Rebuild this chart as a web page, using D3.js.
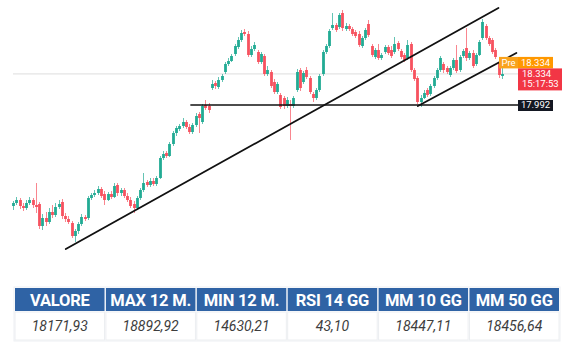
<!DOCTYPE html>
<html>
<head>
<meta charset="utf-8">
<script src="https://cdn.jsdelivr.net/npm/d3@7"></script>
<style>
  html, body { margin: 0; padding: 0; background: #fff; }
  svg { display: block; font-family: Roboto, "Noto Sans", sans-serif; }
</style>
</head>
<body>
<svg id="chart" width="570" height="353"></svg>
<script>
// --- Dati ---
// candele giornaliere [open, high, low, close]
const candles = [
  [16881,16936,16837,16914],[16914,16980,16892,16947],[16947,16969,16848,16881],[16881,16914,16826,16859],
  [16859,16947,16837,16914],[16914,16980,16892,16947],[16947,16969,16859,16892],[16892,17134,16804,16870],
  [16903,16925,16628,16661],[16661,16793,16617,16749],[16749,16815,16661,16705],[16705,16859,16683,16815],
  [16815,16892,16749,16782],[16782,16914,16760,16870],[16870,16947,16848,16903],[16925,16958,16738,16771],
  [16771,16804,16705,16738],[16738,16771,16683,16705],[16694,16716,16529,16551],[16551,16628,16485,16606],
  [16606,16705,16573,16683],[16683,16793,16661,16760],[16760,16782,16716,16738],[16749,16991,16727,16969],
  [16969,17024,16947,17002],[17002,17057,16980,17024],[17024,17101,17002,17068],[17068,17090,16969,16991],
  [17013,17046,16892,16947],[16947,17035,16936,17013],[17013,17046,16958,16980],[16980,17134,16969,17101],
  [17112,17134,16991,17024],[17024,17079,16991,17057],[17057,17079,16969,16991],[16991,17024,16925,16947],
  [16947,16980,16859,16881],[16903,16936,16804,16859],[16859,16991,16837,16969],[16969,17079,16947,17057],
  [17057,17244,17035,17134],[17145,17167,17090,17112],[17112,17189,17090,17156],[17156,17189,17101,17123],
  [17123,17211,17101,17189],[17189,17431,17178,17409],[17409,17486,17387,17453],[17464,17486,17409,17431],
  [17431,17585,17420,17563],[17563,17706,17541,17684],[17684,17761,17651,17739],[17728,17783,17706,17761],
  [17761,17849,17739,17805],[17805,17827,17728,17750],[17750,17783,17673,17695],[17695,17794,17673,17772],
  [17772,17904,17750,17871],[17893,17915,17684,17849],[17805,18003,17783,17981],[17992,18047,17937,17959],
  [17981,18014,17904,17937],[18179,18267,18157,18223],[18234,18256,18168,18201],[18190,18300,18168,18267],
  [18267,18333,18245,18311],[18355,18465,18333,18443],[18443,18509,18421,18476],[18476,18553,18465,18531],
  [18553,18663,18531,18641],[18630,18740,18608,18707],[18707,18817,18685,18784],[18795,18828,18751,18773],
  [18773,18806,18520,18542],[18542,18641,18520,18608],[18608,18685,18586,18652],[18575,18597,18443,18465],
  [18465,18575,18443,18553],[18531,18553,18311,18333],[18333,18421,18311,18377],[18355,18377,18179,18201],
  [18245,18278,18113,18135],[18135,18245,18113,18223],[18102,18124,17948,17970],[18069,18091,17948,17981],
  [17981,18080,17959,18047],[18003,18047,17607,17981],[17981,18091,17959,18069],[18157,18388,18135,18355],
  [18377,18399,18146,18179],[18245,18366,18223,18344],[18377,18410,18278,18300],[18289,18311,18113,18135],
  [18113,18135,18025,18069],[18069,18179,18047,18157],[18157,18333,18135,18311],[18333,18597,18311,18575],
  [18575,18663,18553,18641],[18641,18828,18619,18806],[18839,19004,18817,18872],[18872,18894,18795,18817],
  [18850,19004,18828,18982],[19004,19037,18806,18839],[18828,18894,18806,18861],[18861,18883,18806,18828],
  [18828,18850,18751,18773],[18795,18817,18729,18751],[18773,18806,18630,18652],[18641,18751,18619,18729],
  [18729,18839,18707,18817],[18883,18927,18740,18762],[18641,18663,18520,18542],[18520,18619,18498,18597],
  [18597,18663,18487,18509],[18509,18564,18487,18542],[18575,18652,18553,18630],[18630,18652,18542,18564],
  [18597,18641,18509,18531],[18575,18740,18553,18663],[18674,18696,18586,18608],[18586,18608,18498,18520],
  [18542,18564,18465,18487],[18509,18707,18487,18652],[18663,18685,18355,18377],[18377,18399,18256,18278],
  [18289,18311,18003,18025],[18025,18102,17970,18069],[18069,18157,18058,18124],[18157,18179,18080,18102],
  [18113,18223,18091,18201],[18201,18311,18179,18289],[18289,18399,18267,18377],[18377,18531,18355,18509],
  [18443,18465,18344,18377],[18399,18421,18333,18355],[18322,18421,18300,18399],[18399,18509,18377,18487],
  [18487,18652,18344,18366],[18377,18542,18355,18520],[18531,18608,18509,18586],[18619,18839,18476,18509],
  [18509,18586,18487,18564],[18564,18597,18399,18421],[18443,18564,18421,18542],[18542,18707,18531,18685],
  [18729,18938,18707,18905],[18861,18883,18707,18729],[18729,18751,18641,18663],[18707,18729,18553,18575],
  [18597,18619,18498,18520],[18454,18476,18289,18322],[18311,18399,18278,18333]
];

const lastPrice = 18334;
const supportLevel = 17992;
const lastTime = "15:17:53";
// linee disegnate a mano: [indice candela, prezzo]
const trendLine = [[16.2, 16408], [148.9, 19059]];
const channelLine = [[124.2, 17981], [154.4, 18564]];
const supportStart = 54.4;

const tableHeaders = ["VALORE", "MAX 12 M.", "MIN 12 M.", "RSI 14 GG", "MM 10 GG", "MM 50 GG"];
const tableValues = [18171.93, 18892.92, 14630.21, 43.10, 18447.11, 18456.64];

// --- Configurazione ---
const svg = d3.select("#chart");
const upColor = "#22ab94";
const downColor = "#f7525f";
const plotRight = 518;

const it = d3.formatLocale({ decimal: ",", thousands: ".", grouping: [3], currency: ["€", ""] });
const fmtPrice = it.format(",d");
const fmtTable = it.format(".2f");

const x = d3.scaleLinear().domain([0, candles.length - 1]).range([13, 502]);
const y = d3.scaleLinear().domain([16397, 19147]).range([250, 0]);

const g = svg.append("g");

// linea prezzo corrente (grigia)
g.append("line")
  .attr("x1", x(0)).attr("x2", plotRight)
  .attr("y1", y(lastPrice)).attr("y2", y(lastPrice))
  .attr("stroke", "#e4e4e4").attr("stroke-width", 1.2);

// candele
const candle = g.append("g").selectAll("g")
  .data(candles)
  .join("g")
  .attr("fill", d => d[3] >= d[0] ? upColor : downColor)
  .attr("stroke", d => d[3] >= d[0] ? upColor : downColor);

candle.append("line")
  .attr("x1", (d, i) => Math.round(x(i)) + 0.5)
  .attr("x2", (d, i) => Math.round(x(i)) + 0.5)
  .attr("y1", d => y(d[1]))
  .attr("y2", d => y(d[2]))
  .attr("stroke-width", 1)
  .attr("stroke-opacity", 0.7);

candle.append("rect")
  .attr("x", (d, i) => Math.round(x(i)) - 0.9)
  .attr("width", 2.8)
  .attr("y", d => y(Math.max(d[0], d[3])))
  .attr("height", d => Math.max(1, Math.abs(y(d[0]) - y(d[3]))))
  .attr("stroke", "none");

// supporto orizzontale
g.append("line")
  .attr("x1", x(supportStart)).attr("x2", plotRight)
  .attr("y1", y(supportLevel)).attr("y2", y(supportLevel))
  .attr("stroke", "#111").attr("stroke-width", 1.6);

// trendline e canale
[trendLine, channelLine].forEach(l => {
  g.append("line")
    .attr("x1", x(l[0][0])).attr("y1", y(l[0][1]))
    .attr("x2", x(l[1][0])).attr("y2", y(l[1][1]))
    .attr("stroke", "#111").attr("stroke-width", 1.8)
    .attr("stroke-linecap", "round");
});

// etichette di prezzo a destra
const py = y(lastPrice);
const labels = g.append("g").attr("font-size", 9.5).attr("fill", "#fff");

labels.append("rect").attr("x", 499).attr("y", py - 17).attr("width", 19).attr("height", 11.5).attr("fill", "#f9a21c");
labels.append("text").attr("x", 508.5).attr("y", py - 8).attr("text-anchor", "middle").attr("fill", "#fff").text("Pre");
labels.append("rect").attr("x", plotRight).attr("y", py - 17).attr("width", 35).attr("height", 11.5).attr("fill", "#ff9800");
labels.append("text").attr("x", plotRight + 17.5).attr("y", py - 8).attr("text-anchor", "middle").attr("fill", "#fff").text(fmtPrice(lastPrice));

labels.append("rect").attr("x", plotRight).attr("y", py - 5.5).attr("width", 44).attr("height", 22).attr("fill", "#f23645");
labels.append("text").attr("x", plotRight + 4).attr("y", py + 3.3).attr("fill", "#fff").text(fmtPrice(lastPrice));
labels.append("text").attr("x", plotRight + 4).attr("y", py + 13.3).attr("fill", "#fff").text(lastTime);

labels.append("rect").attr("x", plotRight).attr("y", y(supportLevel) - 5).attr("width", 35).attr("height", 11).attr("fill", "#131722");
labels.append("text").attr("x", plotRight + 17.5).attr("y", y(supportLevel) + 3.4).attr("text-anchor", "middle").attr("fill", "#fff").text(fmtPrice(supportLevel));

// --- Tabella ---
const col = d3.scaleBand().domain(d3.range(tableHeaders.length)).range([15, 559]).paddingInner(0.015);
const table = svg.append("g");

table.append("rect").attr("x", 14).attr("y", 287).attr("width", 546).attr("height", 54)
  .attr("fill", "#fff").attr("stroke", "#eef0f3");

table.selectAll(".hd").data(tableHeaders).join("rect")
  .attr("x", (d, i) => col(i)).attr("y", 288)
  .attr("width", col.bandwidth()).attr("height", 23)
  .attr("fill", "#2f63a5");

table.selectAll(".ht").data(tableHeaders).join("text")
  .attr("x", (d, i) => col(i) + col.bandwidth() / 2).attr("y", 305.5)
  .attr("text-anchor", "middle").attr("fill", "#fff")
  .attr("font-weight", 700).attr("font-size", 16.5)
  .attr("letter-spacing", -0.2)
  .text(d => d);

table.selectAll(".bd").data(tableValues).join("rect")
  .attr("x", (d, i) => col(i)).attr("y", 312)
  .attr("width", col.bandwidth()).attr("height", 28)
  .attr("fill", "#fff").attr("stroke", "#eceef1");

table.selectAll(".bt").data(tableValues).join("text")
  .attr("x", (d, i) => col(i) + col.bandwidth() / 2).attr("y", 331)
  .attr("text-anchor", "middle").attr("fill", "#3d3d3d")
  .attr("font-style", "italic").attr("font-size", 14)
  .text(d => fmtTable(d));
</script>
</body>
</html>
